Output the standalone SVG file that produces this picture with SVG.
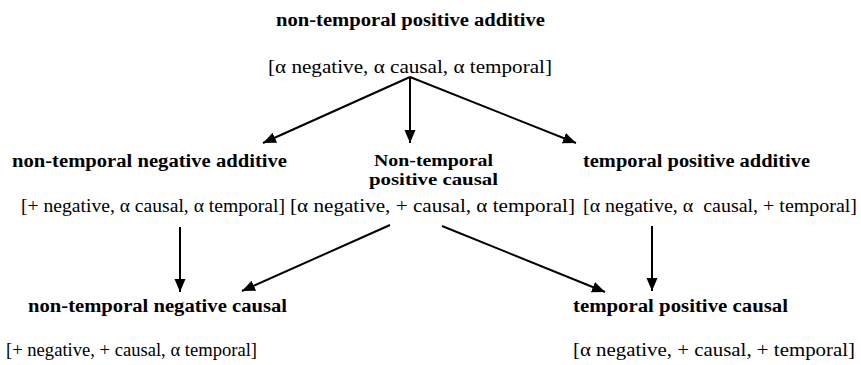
<svg xmlns="http://www.w3.org/2000/svg" width="861" height="365" viewBox="0 0 861 365">
<style>
text{font-family:'Liberation Serif','Times New Roman','DejaVu Serif',serif;font-size:18px;fill:#000}
.b{font-weight:bold}
.s{font-size:17px}
.c line{stroke:#000;stroke-width:2;marker-end:url(#ah)}
</style>
<defs>
<marker id="ah" markerUnits="userSpaceOnUse" markerWidth="14" markerHeight="12" refX="13" refY="5.5" orient="auto">
<path d="M0,0 L13,5.5 L0,11 z" fill="#000"/>
</marker>
</defs>
<rect width="861" height="365" fill="#fff"/>
<g id="n-ntpa">
<text class="b" x="276" y="26" textLength="269" lengthAdjust="spacingAndGlyphs">non-temporal positive additive</text>
<text x="268" y="73" textLength="284" lengthAdjust="spacingAndGlyphs">[α negative, α causal, α temporal]</text>
</g>
<g id="n-ntna">
<text class="b" x="12" y="167" textLength="275" lengthAdjust="spacingAndGlyphs">non-temporal negative additive</text>
<text x="21" y="212" textLength="264" lengthAdjust="spacingAndGlyphs">[+ negative, α causal, α temporal]</text>
</g>
<g id="n-ntpc">
<text class="b s" x="374" y="166" textLength="119" lengthAdjust="spacingAndGlyphs">Non-temporal</text>
<text class="b s" x="369" y="185" textLength="129" lengthAdjust="spacingAndGlyphs">positive causal</text>
<text x="290" y="212" textLength="285" lengthAdjust="spacingAndGlyphs">[α negative, + causal, α temporal]</text>
</g>
<g id="n-tpa">
<text class="b" x="583" y="167" textLength="227" lengthAdjust="spacingAndGlyphs">temporal positive additive</text>
<text x="583" y="212" textLength="274" lengthAdjust="spacingAndGlyphs" xml:space="preserve">[α negative, α  causal, + temporal]</text>
</g>
<g id="n-ntnc">
<text class="b" x="28" y="312" textLength="259" lengthAdjust="spacingAndGlyphs">non-temporal negative causal</text>
<text x="6" y="356" textLength="251" lengthAdjust="spacingAndGlyphs">[+ negative, + causal, α temporal]</text>
</g>
<g id="n-tpc">
<text class="b" x="573" y="312" textLength="215" lengthAdjust="spacingAndGlyphs">temporal positive causal</text>
<text x="573" y="356" textLength="282" lengthAdjust="spacingAndGlyphs">[α negative, + causal, + temporal]</text>
</g>
<g id="connectors" class="c">
<line x1="410" y1="77" x2="263" y2="143"/>
<line x1="410" y1="77" x2="410" y2="143"/>
<line x1="410" y1="77" x2="576" y2="143"/>
<line x1="180" y1="227" x2="180" y2="292"/>
<line x1="390" y1="225" x2="242" y2="291"/>
<line x1="442" y1="226" x2="605" y2="292"/>
<line x1="652" y1="226" x2="652" y2="291"/>
</g>
</svg>
